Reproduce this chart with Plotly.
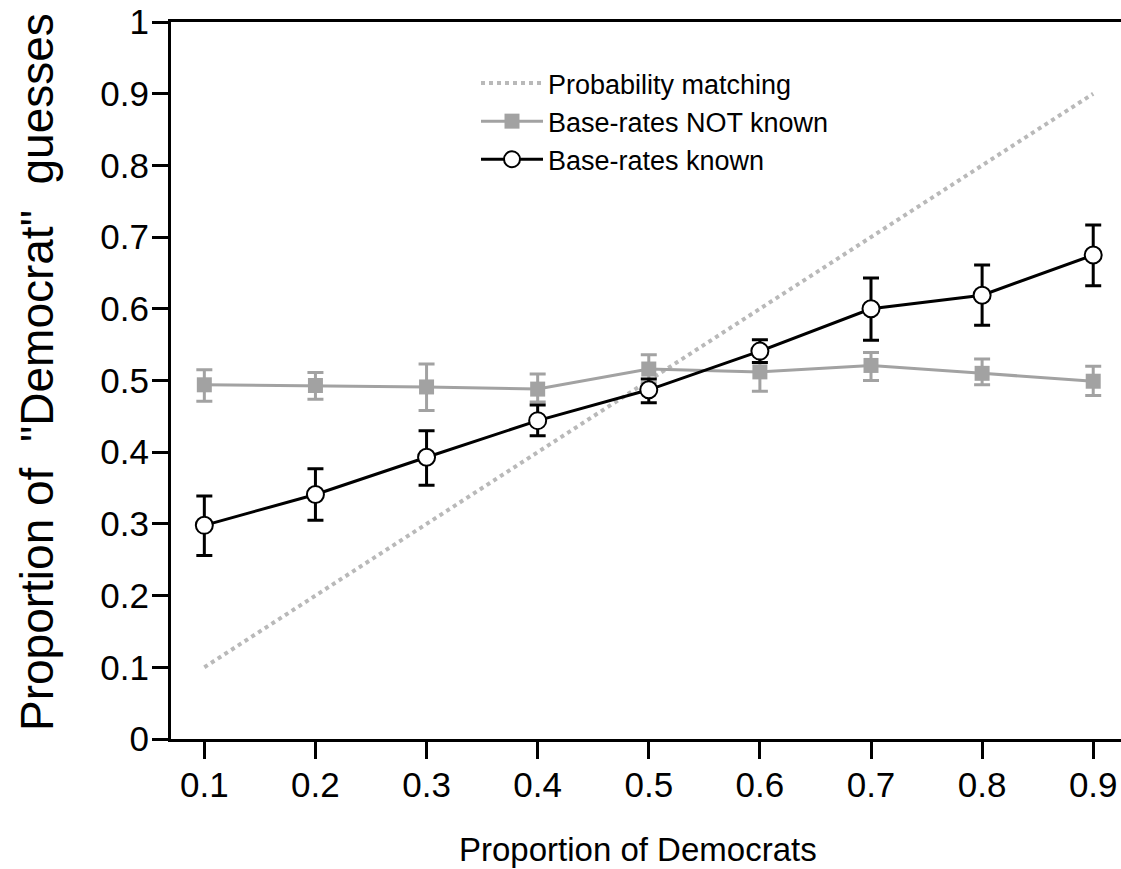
import plotly.graph_objects as go

# Data
prop_dem = [0.1, 0.2, 0.3, 0.4, 0.5, 0.6, 0.7, 0.8, 0.9]
matching = [0.1, 0.2, 0.3, 0.4, 0.5, 0.6, 0.7, 0.8, 0.9]

notknown_mean = [0.494, 0.493, 0.491, 0.488, 0.516, 0.512, 0.521, 0.510, 0.499]
notknown_upper = [0.515, 0.511, 0.523, 0.509, 0.536, 0.539, 0.539, 0.530, 0.520]
notknown_lower = [0.471, 0.474, 0.458, 0.470, 0.497, 0.485, 0.500, 0.494, 0.479]

known_mean = [0.298, 0.341, 0.393, 0.444, 0.487, 0.541, 0.600, 0.619, 0.675]
known_upper = [0.339, 0.377, 0.430, 0.466, 0.502, 0.557, 0.643, 0.661, 0.717]
known_lower = [0.256, 0.305, 0.354, 0.423, 0.469, 0.525, 0.556, 0.577, 0.632]

x_ticks = [0.1, 0.2, 0.3, 0.4, 0.5, 0.6, 0.7, 0.8, 0.9]
x_ticklabels = ["0.1", "0.2", "0.3", "0.4", "0.5", "0.6", "0.7", "0.8", "0.9"]
y_ticks = [0, 0.1, 0.2, 0.3, 0.4, 0.5, 0.6, 0.7, 0.8, 0.9, 1]
y_ticklabels = ["0", "0.1", "0.2", "0.3", "0.4", "0.5", "0.6", "0.7", "0.8", "0.9", "1"]

x_title = "Proportion of Democrats"
y_title = 'Proportion of  "Democrat"  guesses'

FONT = "Arial, 'Liberation Sans', Helvetica, sans-serif"
GREY = "#a2a2a2"
DOT = "#b9b9b9"

fig = go.Figure()

fig.add_trace(go.Scatter(
    x=prop_dem, y=matching, mode="lines", name="Probability matching",
    line=dict(color=DOT, width=4, dash="dot"),
))

fig.add_trace(go.Scatter(
    x=prop_dem, y=notknown_mean, mode="lines+markers", name="Base-rates NOT known",
    line=dict(color=GREY, width=3),
    marker=dict(symbol="square", size=15, color=GREY),
    error_y=dict(type="data", symmetric=False,
                 array=[u - m for u, m in zip(notknown_upper, notknown_mean)],
                 arrayminus=[m - l for m, l in zip(notknown_mean, notknown_lower)],
                 color=GREY, thickness=3, width=8),
))

fig.add_trace(go.Scatter(
    x=prop_dem, y=known_mean, mode="lines+markers", name="Base-rates known",
    line=dict(color="black", width=3),
    marker=dict(symbol="circle", size=17, color="white", line=dict(color="black", width=2)),
    error_y=dict(type="data", symmetric=False,
                 array=[u - m for u, m in zip(known_upper, known_mean)],
                 arrayminus=[m - l for m, l in zip(known_mean, known_lower)],
                 color="black", thickness=3, width=8),
))

# plot area: left 171, right 1121, top 22, bottom 739
PW, PH = 950.0, 717.0

fig.update_layout(
    width=1121, height=869,
    margin=dict(l=171, r=0, t=22, b=130),
    paper_bgcolor="white", plot_bgcolor="white",
    font=dict(family=FONT, color="black"),
    showlegend=True,
    legend=dict(
        x=(476 - 171) / PW, y=(739 - 59) / PH, xanchor="left", yanchor="top",
        bgcolor="rgba(0,0,0,0)", font=dict(size=27, family=FONT),
        itemwidth=62, tracegroupgap=0,
    ),
    xaxis=dict(
        range=[0.07, 0.925], tickmode="array", tickvals=x_ticks, ticktext=x_ticklabels,
        showgrid=False, zeroline=False, showline=True, linecolor="black", linewidth=3,
        mirror=True, ticks="outside", ticklen=17, tickwidth=3, tickcolor="black",
        tickfont=dict(size=35, family=FONT), ticklabelstandoff=-4,
    ),
    yaxis=dict(
        range=[0, 1], tickmode="array", tickvals=y_ticks, ticktext=y_ticklabels,
        showgrid=False, zeroline=False, showline=True, linecolor="black", linewidth=3,
        mirror=False, ticks="outside", ticklen=16, tickwidth=3, tickcolor="black",
        tickfont=dict(size=35, family=FONT), ticklabelstandoff=-4,
    ),
    annotations=[
        dict(text=x_title, xref="paper", yref="paper",
             x=(638 - 171) / PW, y=-(849 - 739) / PH, xanchor="center", yanchor="middle",
             showarrow=False, font=dict(size=33, family=FONT)),
        dict(text=y_title, xref="paper", yref="paper", textangle=-90,
             x=-(171 - 37) / PW, y=(739 - 372) / PH, xanchor="center", yanchor="middle",
             showarrow=False, font=dict(size=46, family=FONT)),
    ],
)

fig.write_html("out.html")
